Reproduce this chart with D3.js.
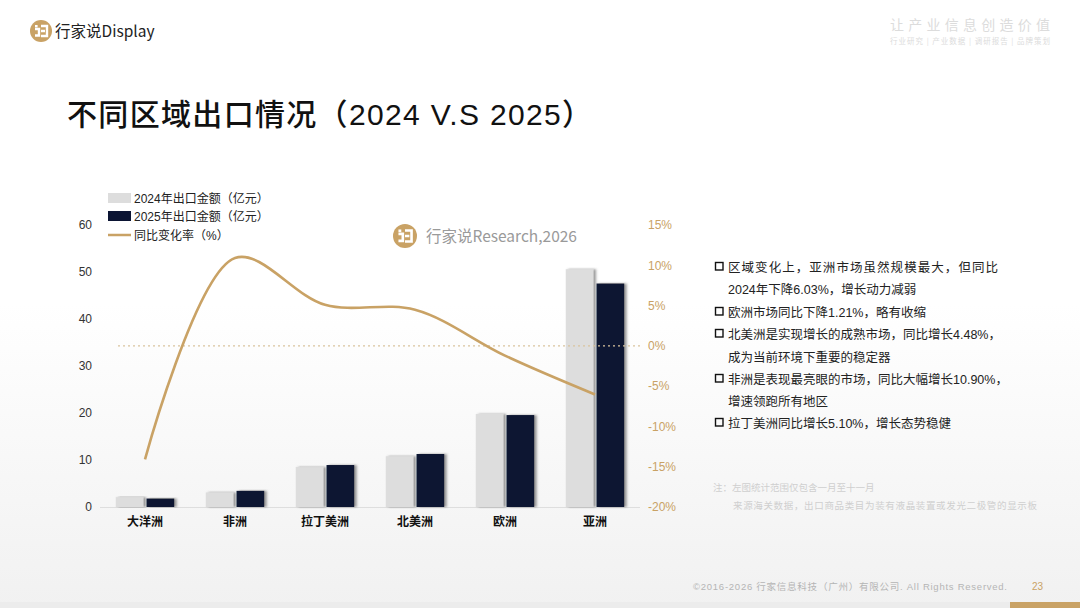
<!DOCTYPE html>
<html><head><meta charset="utf-8">
<script src="https://cdn.jsdelivr.net/npm/d3@7/dist/d3.min.js"></script>
<style>
html,body{margin:0;padding:0;background:#fff;}
svg{display:block;}
</style></head>
<body>
<svg id="c" width="1080" height="608"></svg>
<script>
const categories = ["大洋洲","非洲","拉丁美洲","北美洲","欧洲","亚洲"];
const years = ["2024","2025"];
const values2024 = [2.1, 3.1, 8.5, 10.8, 19.8, 50.6];
const values2025 = [1.8, 3.44, 8.93, 11.28, 19.56, 47.55];
const yoy = [-14.1, 10.9, 5.1, 4.48, -1.21, -6.03];
const leftTicks = [0,10,20,30,40,50,60];
const rightTicks = [-20,-15,-10,-5,0,5,10,15];
const legendLabels = ["2024年出口金额（亿元）","2025年出口金额（亿元）","同比变化率（%）"];
const bullets = [
  ["区域变化上，亚洲市场虽然规模最大，但同比","2024年下降6.03%，增长动力减弱"],
  ["欧洲市场同比下降1.21%，略有收缩"],
  ["北美洲是实现增长的成熟市场，同比增长4.48%，","成为当前环境下重要的稳定器"],
  ["非洲是表现最亮眼的市场，同比大幅增长10.90%，","增速领跑所有地区"],
  ["拉丁美洲同比增长5.10%，增长态势稳健"]
];
const notes = ["注：左图统计范围仅包含一月至十一月","来源海关数据，出口商品类目为装有液晶装置或发光二极管的显示板"];

const GOLD = "#C9A265", NAVY = "#0B1433", LIGHT = "#DDDDDD";
const CJK = "'Liberation Sans','Noto Sans CJK SC',sans-serif";
const svg = d3.select("#c");
const defs = svg.append("defs");
const grad = defs.append("linearGradient").attr("id","bg").attr("x1",0).attr("y1",0).attr("x2",0).attr("y2",1);
grad.append("stop").attr("offset","0.5").attr("stop-color","#ffffff");
grad.append("stop").attr("offset","1").attr("stop-color","#f1f1f1");
const f = defs.append("filter").attr("id","sh").attr("x","-20%").attr("y","-10%").attr("width","150%").attr("height","120%");
f.append("feDropShadow").attr("dx",2.5).attr("dy",0).attr("stdDeviation",0.8).attr("flood-color","#555").attr("flood-opacity",0.6);

svg.append("rect").attr("width",1080).attr("height",608).attr("fill","url(#bg)");
// footer band
svg.append("rect").attr("x",0).attr("y",602).attr("width",1080).attr("height",6).attr("fill","#ececec");
svg.append("rect").attr("x",1010).attr("y",602).attr("width",70).attr("height",6).attr("fill",GOLD);

function logo(g, cx, cy, r){
  g.append("circle").attr("cx",cx).attr("cy",cy).attr("r",r).attr("fill",GOLD);
  const s = r/11;
  g.append("rect").attr("x",cx-6*s).attr("y",cy-6*s).attr("width",2.6*s).attr("height",2.4*s).attr("fill","#fff");
  g.append("path").attr("d",`M${cx-6*s},${cy-2*s} h${4*s} v${6.5*s} h${-4*s}`).attr("fill","none").attr("stroke","#fff").attr("stroke-width",2.4*s);
  g.append("path").attr("d",`M${cx},${cy-5*s} h${6*s} v${10*s} h${-6*s} M${cx},${cy} h${4*s}`).attr("fill","none").attr("stroke","#fff").attr("stroke-width",2.4*s);
}
// header logo
logo(svg, 41, 31, 11);
svg.append("text").attr("x",55).attr("y",37).attr("font-family","'Noto Sans CJK SC',sans-serif").attr("font-size",15.5).attr("fill","#222").text("行家说Display");
svg.append("text").attr("x",1050).attr("y",30).attr("text-anchor","end").attr("font-family","'Noto Sans CJK SC',sans-serif").attr("font-size",14).attr("fill","#dcdcdc").attr("textLength",160).attr("lengthAdjust","spacing").text("让产业信息创造价值");
svg.append("text").attr("x",1050).attr("y",44).attr("text-anchor","end").attr("font-family","'Noto Sans CJK SC',sans-serif").attr("font-size",7.5).attr("fill","#dcdcdc").attr("textLength",160).attr("lengthAdjust","spacing").text("行业研究 | 产业数据 | 调研报告 | 品牌策划");

// title
svg.append("text").attr("x",67).attr("y",125).attr("font-family",CJK).attr("font-size",30).attr("font-weight",500).attr("fill","#111").attr("textLength",525).text("不同区域出口情况（2024 V.S 2025）");

// scales
const x0 = d3.scaleBand().domain(categories).range([100,640]).paddingInner(0.35).paddingOuter(0.175);
const x1 = d3.scaleBand().domain(years).range([0,x0.bandwidth()]).paddingInner(0.1);
const yL = d3.scaleLinear().domain([0,60]).range([507,225]);
const yR = d3.scaleLinear().domain([-20,15]).range([507,225]);

// left axis
const gl = svg.append("g").attr("transform","translate(92,0)").call(d3.axisLeft(yL).tickValues(leftTicks).tickSize(0).tickPadding(0));
gl.select(".domain").remove();
gl.selectAll("text").attr("font-family",CJK).attr("font-size",12).attr("fill","#333");
// right axis
const gr = svg.append("g").attr("transform","translate(648,0)").call(d3.axisRight(yR).tickValues(rightTicks).tickSize(0).tickPadding(0).tickFormat(d=>d+"%"));
gr.select(".domain").remove();
gr.selectAll("text").attr("font-family",CJK).attr("font-size",12).attr("fill",GOLD);

// baseline
svg.append("line").attr("x1",100).attr("x2",640).attr("y1",yL(0)+0.5).attr("y2",yL(0)+0.5).attr("stroke","#dedede").attr("stroke-width",1);

// bars
const data = categories.map((c,i)=>({c, v:[values2024[i], values2025[i]]}));
const groups = svg.append("g").selectAll("g").data(data).join("g").attr("transform",d=>`translate(${x0(d.c)},0)`);
groups.selectAll("rect").data(d=>years.map((y,j)=>({y, v:d.v[j]}))).join("rect")
  .attr("x",d=>x1(d.y)).attr("width",x1.bandwidth())
  .attr("y",d=>yL(d.v)).attr("height",d=>yL(0)-yL(d.v))
  .attr("fill",d=>d.y==="2024"?LIGHT:NAVY).attr("filter","url(#sh)");

// x labels
const gx = svg.append("g").attr("transform",`translate(0,${yL(0)})`).call(d3.axisBottom(x0).tickSize(0).tickPadding(10));
gx.select(".domain").remove();
gx.selectAll("text").attr("font-family",CJK).attr("font-size",12).attr("font-weight","bold").attr("fill","#111");

// zero dotted line
svg.append("line").attr("x1",118).attr("x2",640).attr("y1",yR(0)).attr("y2",yR(0)).attr("stroke","#D9C49E").attr("stroke-width",1.2).attr("stroke-dasharray","2,3");

// yoy line
const line = d3.line().x((d,i)=>x0(categories[i])+x0.bandwidth()/2).y(d=>yR(d)).curve(d3.curveCatmullRom.alpha(0.5));
svg.append("path").datum(yoy).attr("d",line).attr("fill","none").attr("stroke",GOLD).attr("stroke-width",2.6);

// legend
const lg = svg.append("g");
lg.append("rect").attr("x",108).attr("y",193).attr("width",23).attr("height",10).attr("fill",LIGHT);
lg.append("rect").attr("x",108).attr("y",211).attr("width",23).attr("height",10).attr("fill",NAVY);
lg.append("line").attr("x1",108).attr("x2",131).attr("y1",235).attr("y2",235).attr("stroke",GOLD).attr("stroke-width",2.5);
legendLabels.forEach((t,i)=>{
  lg.append("text").attr("x",134).attr("y",[203,221,240][i]).attr("font-family",CJK).attr("font-size",12).attr("fill","#222").text(t);
});

// watermark
logo(svg, 405, 236, 12);
svg.append("text").attr("x",426).attr("y",242).attr("font-family","'Noto Sans CJK SC',sans-serif").attr("font-size",15.5).attr("fill","#9a9a9a").text("行家说Research,2026");

// bullets
const bg = svg.append("g");
let lineIdx = 0;
const lineYs = [272,294,317,339,362,384,406,428];
bullets.forEach(b=>{
  b.forEach((t,k)=>{
    const y = lineYs[lineIdx++];
    if(k===0){
      bg.append("rect").attr("x",715.5).attr("y",y-9.5).attr("width",7.5).attr("height",7.5).attr("fill","none").attr("stroke","#111").attr("stroke-width",1.4);
    }
    const tx = bg.append("text").attr("x",728).attr("y",y).attr("font-family",CJK).attr("font-size",12.5).attr("fill","#222").text(t);
    if(lineIdx===1) tx.attr("textLength",270).attr("lengthAdjust","spacing");
  });
});

// notes
svg.append("text").attr("x",713).attr("y",491).attr("font-family",CJK).attr("font-size",9.5).attr("fill","#cfcfcf").text(notes[0]);
svg.append("text").attr("x",733).attr("y",509).attr("font-family",CJK).attr("font-size",9.5).attr("fill","#cfcfcf").attr("textLength",304).text(notes[1]);

// footer
svg.append("text").attr("x",693).attr("y",590).attr("font-family",CJK).attr("font-size",9.5).attr("fill","#b5b5b5").attr("textLength",314).attr("lengthAdjust","spacing").text("©2016-2026 行家信息科技（广州）有限公司. All Rights Reserved.");
svg.append("text").attr("x",1032).attr("y",590).attr("font-family",CJK).attr("font-size",10).attr("fill",GOLD).text("23");
</script>
</body></html>
